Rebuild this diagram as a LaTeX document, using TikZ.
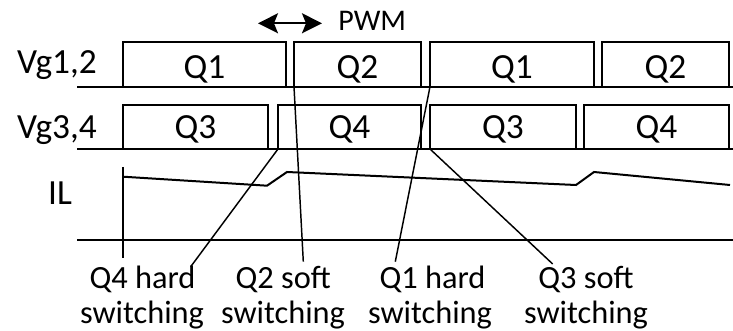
\documentclass[tikz,border=0pt]{standalone}
\usepackage{fontspec}
\setmainfont{Carlito}
\usetikzlibrary{arrows.meta}
\tikzset{pwmtip/.tip={Stealth[length=15pt,width=15pt,inset=3pt]}}
\begin{document}
\begin{tikzpicture}[x=0.75pt,y=-0.75pt,
  wave/.style={line width=1.5pt, line join=miter},
  axisline/.style={line width=1.5pt},
  leader/.style={line width=1.1pt},
  rowlbl/.style={anchor=base, inner sep=0pt, font=\fontsize{26.5}{29}\selectfont},
  boxlbl/.style={anchor=base, inner sep=0pt, font=\fontsize{26.5}{29}\selectfont},
  evlbl/.style={anchor=base, inner sep=0pt, font=\fontsize{24.3}{27}\selectfont},
  pwmlbl/.style={anchor=base west, inner sep=0pt, font=\fontsize{22.5}{25}\selectfont}]
\useasboundingbox (0,0) rectangle (733,331);

% row labels
\node[rowlbl] (vg12) at (57,73.3) {Vg1,2};
\node[rowlbl] (vg34) at (57,138.3) {Vg3,4};
\node[rowlbl] (il) at (60,205) {IL};

% gate signal baselines
\draw[axisline] (77,86.7) -- (733,86.7);
\draw[axisline] (77,149) -- (733,149);

% gate pulses, upper row
\foreach \a/\b/\t [count=\i] in {123/286/Q1, 294/421/Q2, 430/594/Q1, 602/729/Q2}{
  \draw[wave] (\a,86.7) -- (\a,41.7) -- (\b,41.7) -- (\b,86.7);
  \node[boxlbl] (up\i) at ({(\a+\b)/2},78.3) {\t};
}
% gate pulses, lower row
\foreach \a/\b/\t [count=\i] in {123/268/Q3, 278/421/Q4, 430/576/Q3, 584/729/Q4}{
  \draw[wave] (\a,149) -- (\a,105) -- (\b,105) -- (\b,149);
  \node[boxlbl] (lo\i) at ({(\a+\b)/2},138.3) {\t};
}

% PWM period marker
\coordinate (pwmL) at (258,23.3);
\coordinate (pwmR) at (322,23.3);
\draw[line width=1.5pt, pwmtip-pwmtip] (pwmL) -- (pwmR);
\node[pwmlbl] (pwm) at (338,30.5) {PWM};

% inductor current
\draw[axisline] (77,240) -- (733,240);
\draw[leader] (123,167) -- (123,258);
\draw[wave] (123,176.7) -- (267,185.7) -- (287,172) -- (576,185) -- (594,172) -- (730,185);

% switching event labels
\node[evlbl] (q4h) at (142.5,288.3) {Q4 hard};
\node[evlbl] (q4s) at (142,324) {switching};
\node[evlbl] (q2s) at (283.3,288.3) {Q2 soft};
\node[evlbl] (q2w) at (283,324) {switching};
\node[evlbl] (q1h) at (432.5,288.3) {Q1 hard};
\node[evlbl] (q1w) at (430,324) {switching};
\node[evlbl] (q3s) at (586,288.3) {Q3 soft};
\node[evlbl] (q3w) at (586,324) {switching};

% edges where the events happen
\coordinate (q4on) at (278,149);
\coordinate (q2on) at (294,86.7);
\coordinate (q1on) at (430,86.7);
\coordinate (q3on) at (430,149);
% leader ends above the labels
\coordinate (q4end) at (190.7,266.7);
\coordinate (q2end) at (303.3,261.7);
\coordinate (q1end) at (395.3,261.7);
\coordinate (q3end) at (552.7,264);

\draw[leader] (q4on) -- (q4end);
\draw[leader] (q2on) -- (q2end);
\draw[leader] (q1on) -- (q1end);
\draw[leader] (q3on) -- (q3end);
\end{tikzpicture}
\end{document}
